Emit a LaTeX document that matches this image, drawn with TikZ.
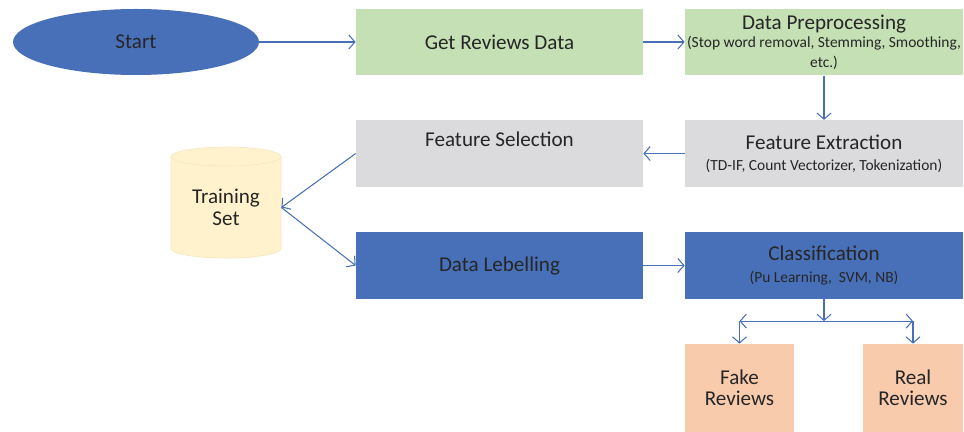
\documentclass[tikz,border=0pt]{standalone}
\usepackage{fontspec}
\setmainfont{Carlito}
\usepackage{tikz}
\usetikzlibrary{shapes,arrows.meta,positioning,calc}
\definecolor{bluefill}{HTML}{4870B8}
\definecolor{greenfill}{HTML}{C5E0B4}
\definecolor{greyfill}{HTML}{DBDBDD}
\definecolor{yellowfill}{HTML}{FFF2CC}
\definecolor{peachfill}{HTML}{F8CBAD}
\definecolor{txtcol}{HTML}{262626}
\newcommand{\subfont}{\fontsize{8.8}{10.5}\selectfont}

\begin{document}
\begin{tikzpicture}[
    flow/.style={draw=bluefill, line width=0.6pt, -{Straight Barb[length=3.5pt,width=8pt]}},
    box/.style={rectangle, inner sep=0pt, align=center, text=txtcol,
        minimum height=1.33cm, font=\fontsize{12}{15}\selectfont},
    wide/.style={box, minimum width=5.74cm},
    right col/.style={box, minimum width=5.56cm},
    greenbox/.style={fill=greenfill},
    greybox/.style={fill=greyfill},
    bluebox/.style={fill=bluefill},
    peachbox/.style={box, fill=peachfill, minimum height=1.76cm}
]
    \useasboundingbox (0,0) rectangle (19.28,-8.64);

    % Start
    \node[ellipse, fill=bluefill, inner sep=0pt, minimum width=4.92cm, minimum height=1.32cm,
        text=txtcol, font=\fontsize{12}{15}\selectfont] (start) at (2.72,-0.84) {Start};

    % Top row
    \node[wide, greenbox] (get) at (9.99,-0.84) {Get Reviews Data};
    \node[right col, greenbox] (prep) at (16.48,-0.84)
        {Data Preprocessing\\[-4.5pt] \subfont (Stop word removal, Stemming, Smoothing,\\[-4pt] \subfont etc.)};

    % Middle row
    \node[right col, greybox] (fe) at (16.48,-3.07)
        {Feature Extraction\\[-3pt] \subfont (TD-IF, Count Vectorizer, Tokenization)};
    \node[wide, greybox] (fs) at (9.99,-3.07) {Feature Selection\\[-1.5pt] \subfont\strut};

    % Training set
    \node[cylinder, shape border rotate=90, aspect=0.28, draw=yellowfill!80!black!20!yellowfill,
        fill=yellowfill, minimum width=2.2cm, minimum height=2.22cm, inner sep=0pt,
        align=center, text=txtcol, font=\fontsize{12}{15}\selectfont] (train) at (4.52,-4.15)
        {Training\\[-2.5pt]Set};

    % Bottom row
    \node[wide, bluebox] (lab) at (9.99,-5.31) {Data Lebelling};
    \node[right col, bluebox] (cls) at (16.48,-5.31)
        {Classification\\[-3pt] \subfont (Pu Learning,\ \ SVM, NB)};

    % Results
    \node[peachbox, minimum width=2.18cm] (fake) at (14.79,-7.76) {Fake\\[-3pt]Reviews};
    \node[peachbox, minimum width=2.0cm] (real) at (18.26,-7.76) {Real\\[-3pt]Reviews};

    % Connectors
    \draw[flow] (start) -- (get);
    \draw[flow] (get) -- (prep);
    \draw[flow] (prep) -- (fe);
    \draw[flow] (fe) -- (fs);
    \draw[flow] (fs.west) -- (train.east);
    \draw[flow] (train.east) -- (lab.west);
    \draw[flow] (lab) -- (cls);

    \coordinate (split) at ($(cls.south)+(0,-0.44)$);
    \draw[flow] (cls) -- (split);
    \draw[flow] (split) -- (split -| fake);
    \draw[flow] (split) -- (split -| real);
    \draw[flow] (split -| fake) -- (fake);
    \draw[flow] (split -| real) -- (real);
\end{tikzpicture}
\end{document}
